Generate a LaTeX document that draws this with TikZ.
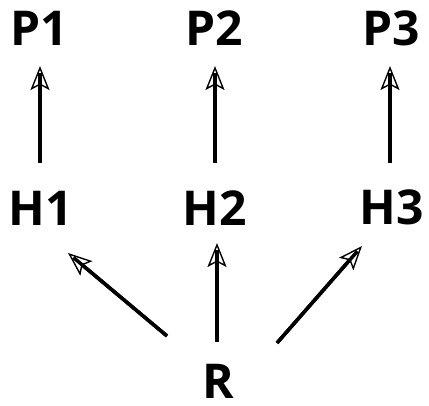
\documentclass[tikz,border=0pt]{standalone}
\usepackage{fontspec}
\setmainfont{Open Sans}
\usetikzlibrary{arrows.meta,calc}
\begin{document}
\begin{tikzpicture}[x=1pt,y=1pt,
  lbl/.style={font=\fontsize{48}{48}\selectfont\bfseries, inner sep=0pt},
  arr/.style={line width=3.5pt,
    -{Stealth[open, length=24pt, width=19pt, inset=5pt, line width=1.4pt]},
    postaction={draw, -, line width=3.5pt, shorten >=7pt}}]
  \useasboundingbox (0,0) rectangle (429,406);
  % labels
  \node[lbl] (P1) at (39,378) {P1};
  \node[lbl] (P2) at (214,378) {P2};
  \node[lbl] (P3) at (391,378) {P3};
  \node[lbl] (H1) at (41,198) {H1};
  \node[lbl] (H2) at (215,198) {H2};
  \node[lbl] (H3) at (392,199) {H3};
  \node[lbl] (R)  at (218,25) {R};
  % connectors from R up to the H row
  \draw[arr] ([shift={(-51,45)}]R.center) -- ([shift={(27,-45)}]H1.center);
  \draw[arr] ([shift={(-1,39)}]R.center) -- ([shift={(2,-35)}]H2.center);
  \draw[arr] ([shift={(59,38)}]R.center) -- ([shift={(-30,-39)}]H3.center);
  % connectors from the H row up to the P row
  \draw[arr] ([shift={(-1,45)}]H1.center) -- ([shift={(1,-38)}]P1.center);
  \draw[arr] ([shift={(0,45)}]H2.center) -- ([shift={(1,-38)}]P2.center);
  \draw[arr] ([shift={(-2,44)}]H3.center) -- ([shift={(-1,-38)}]P3.center);
\end{tikzpicture}
\end{document}
